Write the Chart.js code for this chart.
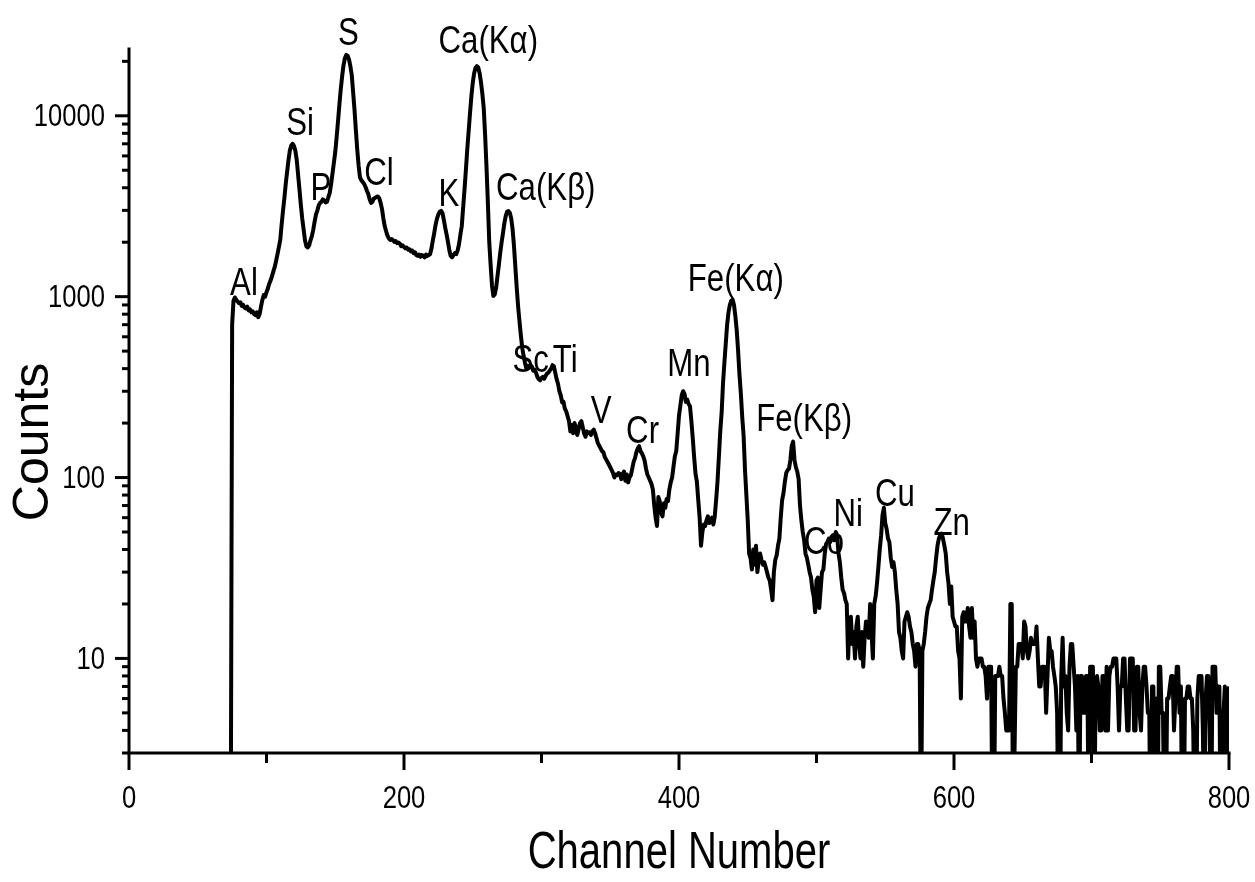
<!DOCTYPE html>
<html><head><meta charset="utf-8">
<script src="https://cdn.jsdelivr.net/npm/chart.js@4.4.1/dist/chart.umd.min.js"></script>
<style>html,body{margin:0;padding:0;background:#fff;overflow:hidden;}#wrap{width:1255px;height:882px;}</style>
</head><body><div id="wrap"><canvas id="c" width="1255" height="882"></canvas></div>
<script>
// Spectrum counts per channel, starting at firstChannel (values of 1 lie below the axis floor)
const firstChannel = 70;
const counts = [
1,1,1,1,1,700,950,990,960,940,
920,930,890,900,870,860,880,840,850,820,
830,800,790,820,770,800,880,960,1020,1000,
1060,1110,1180,1230,1300,1380,1460,1580,1720,1880,
2060,2500,2980,3500,4200,4900,5700,6450,6850,7000,
6800,6400,5700,4700,3900,3200,2700,2350,2050,1900,
1870,1920,2050,2160,2350,2600,2850,3000,3200,3300,
3350,3450,3400,3320,3350,3550,3750,4200,4800,5500,
6300,7600,9300,11500,14000,16500,19000,20800,21700,21500,
20500,18800,16800,13500,10800,8300,6500,5300,4550,4400,
4300,4200,4050,3850,3700,3450,3300,3350,3480,3520,
3560,3580,3500,3300,3050,2700,2450,2300,2170,2100,
2060,2080,2050,2010,2030,1980,1990,1960,1900,1920,
1880,1850,1870,1820,1830,1780,1800,1740,1760,1700,
1680,1710,1660,1700,1680,1650,1710,1680,1700,1720,
1850,2050,2250,2500,2700,2850,2950,2980,2900,2650,
2400,2200,2000,1800,1680,1650,1700,1740,1720,1800,
1950,2200,2450,3100,3900,5000,6500,8200,10300,12800,
15200,17200,18400,18800,18500,17200,15300,13200,11000,7800,
5200,3300,2000,1500,1150,1010,1030,1120,1300,1500,
1750,2000,2250,2550,2800,2950,2970,2900,2700,2350,
1900,1450,1120,880,730,610,520,470,430,400,
415,405,420,410,390,395,380,360,350,345,
355,360,352,365,375,380,390,400,418,412,
380,350,330,300,285,260,262,240,232,218,
205,180,195,176,200,190,172,185,200,205,
190,175,168,180,176,178,172,180,184,176,
165,155,150,145,140,138,130,126,122,118,
114,110,106,100,104,103,106,105,98,104,
108,96,104,94,100,103,112,122,128,138,
145,149,140,136,131,124,112,104,100,96,
92,86,70,60,54,78,74,64,61,72,
68,76,74,86,94,100,115,131,140,175,
220,250,285,300,290,262,270,255,248,205,
165,130,105,95,75,60,42,50,55,54,
58,61,56,58,60,55,61,75,95,130,
180,228,330,430,550,700,820,900,950,960,
900,780,650,500,370,290,215,170,110,80,
58,38,36,31,40,33,42,30,35,38,
35,33,34,32,30,28,27,24,21,30,
35,37,42,46,60,75,82,95,106,110,
112,125,150,158,125,114,108,98,70,58,
50,45,38,36,33,30,28,24,22,18,
27,28,19,24,30,31,38,43,44,46,
44,46,48,45,50,48,38,34,28,24,
23,21,20,10,16,17,12,14,10,15,
17,12,10,14,9,13,16,14,13,20,
14,10,20,22,26,32,40,48,62,68,
56,52,46,44,36,32,34,30,24,20,
14,13,11,10,16,17,18,17,15,14,
12,11,9,12,12,11,1,11,12,14,
17,19,20,21,24,27,30,36,42,46,
48,49,46,42,38,30,26,20,25,17,
16,15,15,11,10,6,17,18,16,16,
19,15,13,19,13,16,10,9,10,10,
10,9,9,8,6,9,9,9,1,1,
8,8,8,9,8,8,6,5,4,4,
4,20,20,1,3,9,9,12,12,12,
10,16,15,11,10,11,13,12,12,12,
15,10,7,7,9,9,9,5,8,13,
11,11,9,8,7,5,1,1,8,13,
7,8,5,4,9,12,12,9,7,4,
8,1,8,8,5,5,8,8,1,9,
9,9,1,7,8,7,4,4,8,8,
4,9,4,8,9,9,10,10,10,7,
4,7,7,10,10,6,4,4,10,10,
10,4,4,9,9,5,4,7,9,9,
7,5,5,1,7,7,1,6,1,9,
9,5,5,1,1,6,6,7,8,8,
4,6,9,9,5,7,1,1,6,6,
7,7,6,6,4,1,1,6,8,8,
8,4,1,6,8,8,4,1,9,9,
9,5,7,7,1,5,5,7,1,5,
7
];
const xTickValues = [0, 200, 400, 600, 800];
const xMinorTickValues = [100, 300, 500, 700];
const yTickValues = [10, 100, 1000, 10000];
const peakNames = ['Al','Si','P','S','Cl','K','Ca(K\u03b1)','Ca(K\u03b2)','Sc','Ti','V','Cr','Mn','Fe(K\u03b1)','Fe(K\u03b2)','Co','Ni','Cu','Zn'];
const peakLabelChannels = [83.6,124.4,139.6,159.5,181.8,232.7,261.3,303.1,292.1,317.3,343.4,373.5,407.3,441.3,491,505.5,523.1,557.1,598.3];
const peakLabelCounts = [1026,7850,3435,24660,4160,3155,22200,3435,385,385,200,156,363,1069,180,37.6,53.8,69.3,48.4];
const xTitle = 'Channel Number';
const yTitle = 'Counts';

const FONT = "'Liberation Sans', Arial, sans-serif";
const SX = 0.8; // horizontal text compression seen in the reference
const points = counts.map((c, i) => ({x: firstChannel + i, y: c}));

function drawText(ctx, s, x, y, size, align, sx) {
  ctx.save();
  ctx.translate(x, y);
  ctx.scale(sx || SX, 1);
  ctx.font = size + 'px ' + FONT;
  ctx.textAlign = align;
  ctx.textBaseline = 'alphabetic';
  ctx.fillStyle = '#000';
  ctx.fillText(s, 0, 0);
  ctx.restore();
}

const decorPlugin = {
  id: 'decor',
  afterDatasetsDraw(chart) {
    const {ctx, chartArea: a, scales: {x, y}} = chart;
    ctx.save();
    ctx.strokeStyle = '#000';
    ctx.lineWidth = 3;
    ctx.lineCap = 'square';
    ctx.beginPath();
    ctx.moveTo(a.left, a.top);
    ctx.lineTo(a.left, a.bottom);
    ctx.lineTo(a.right, a.bottom);
    ctx.stroke();
    ctx.lineCap = 'butt';
    // x ticks + labels
    xTickValues.concat(xMinorTickValues).forEach(v => {
      const px = x.getPixelForValue(v);
      const major = xTickValues.includes(v);
      ctx.beginPath();
      ctx.moveTo(px, a.bottom);
      ctx.lineTo(px, a.bottom + (major ? 17 : 10));
      ctx.stroke();
      if (major) drawText(ctx, String(v), px, 808, 32, 'center');
    });
    // y ticks + labels
    for (let d = 0; d <= 5; d++) {
      for (let m = 1; m <= 9; m++) {
        const v = m * Math.pow(10, d);
        if (v < y.min || v > y.max) continue;
        const py = y.getPixelForValue(v);
        const major = yTickValues.includes(v);
        ctx.beginPath();
        ctx.moveTo(a.left, py);
        ctx.lineTo(a.left - (major ? 14 : 7), py);
        ctx.stroke();
        if (major) drawText(ctx, String(v), 105, py + 10.5, 32, 'right');
      }
    }
    // peak labels
    peakNames.forEach((n, i) => {
      drawText(ctx, n, x.getPixelForValue(peakLabelChannels[i]), y.getPixelForValue(peakLabelCounts[i]), 39, 'center');
    });
    // axis titles
    drawText(ctx, xTitle, (a.left + a.right) / 2, 868, 52, 'center', 0.77);
    ctx.save();
    ctx.translate(48, 442);
    ctx.rotate(-Math.PI / 2);
    ctx.font = '50px ' + FONT;
    ctx.textAlign = 'center';
    ctx.textBaseline = 'alphabetic';
    ctx.fillStyle = '#000';
    ctx.fillText(yTitle, 0, 0);
    ctx.restore();
    ctx.restore();
  }
};

new Chart(document.getElementById('c'), {
  type: 'line',
  data: {
    datasets: [{
      data: points,
      borderColor: '#000',
      borderWidth: 4,
      pointRadius: 0,
      tension: 0,
      fill: false,
      borderJoinStyle: 'round'
    }]
  },
  options: {
    responsive: false,
    animation: false,
    devicePixelRatio: 1,
    layout: {padding: {left: 0, right: 26, top: 49, bottom: 0}},
    plugins: {legend: {display: false}, tooltip: {enabled: false}},
    scales: {
      x: {
        type: 'linear', min: 0, max: 800,
        grid: {display: false, drawTicks: false},
        border: {display: false},
        ticks: {display: false, stepSize: 100},
        afterFit: s => { s.height = 129; s.paddingLeft = 0; s.paddingRight = 0; }
      },
      y: {
        type: 'logarithmic', min: 3, max: 23400,
        grid: {display: false, drawTicks: false},
        border: {display: false},
        ticks: {display: false},
        afterFit: s => { s.width = 129; s.paddingTop = 0; s.paddingBottom = 0; }
      }
    }
  },
  plugins: [decorPlugin]
});
</script>
</body></html>
